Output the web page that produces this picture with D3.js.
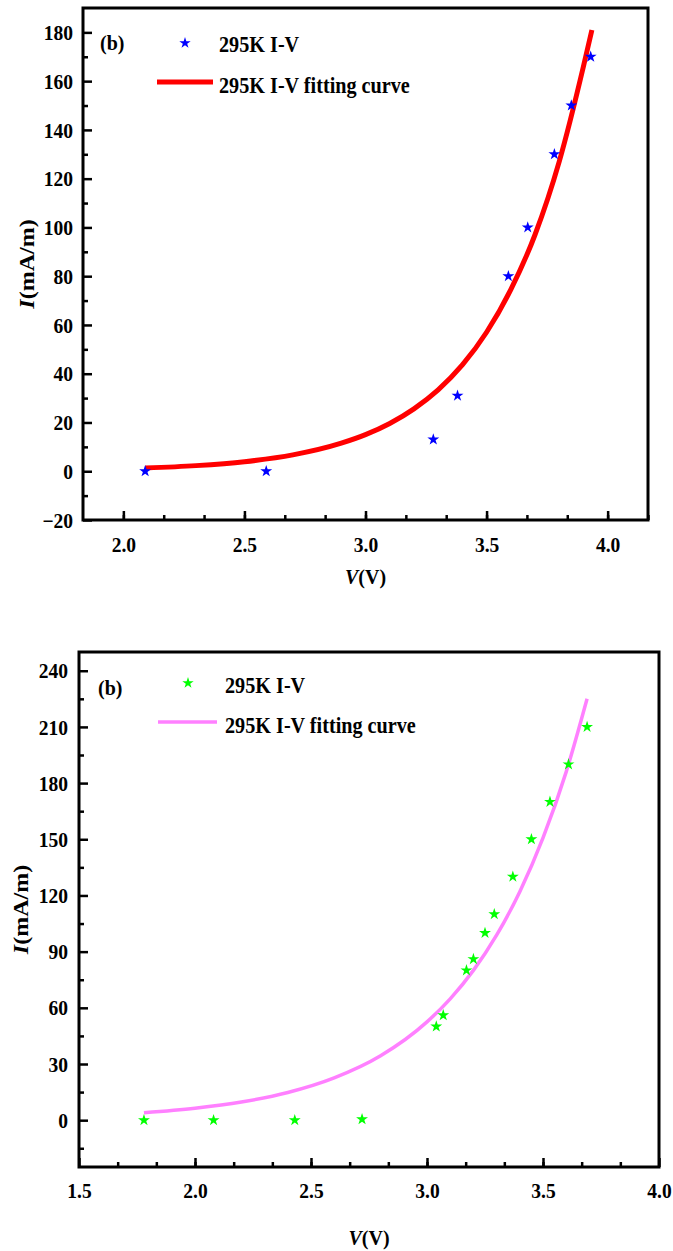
<!DOCTYPE html>
<html>
<head>
<meta charset="utf-8">
<script src="https://cdn.jsdelivr.net/npm/d3@7"></script>
<style>
  html, body { margin: 0; padding: 0; background: #fff; }
  svg { display: block; }
  text { font-family: "Liberation Serif", "Times New Roman", serif; font-weight: bold; fill: #000; }
</style>
</head>
<body>
<svg id="chart" width="673" height="1251"></svg>
<script>
// ---------- data: top chart ----------
const topV = [2.09, 2.59, 3.28, 3.38, 3.59, 3.67, 3.78, 3.85, 3.93];
const topI = [0, 0, 13, 31, 80, 100, 130, 150, 170];
const topFitV = [2.09, 2.3, 2.5, 2.7, 2.9, 3.0, 3.1, 3.2, 3.3, 3.4, 3.5, 3.6, 3.7, 3.8, 3.9, 3.935];
const topFitI = [1.3, 2.3, 3.9, 6.7, 11.5, 15, 19.6, 25.6, 33.4, 43.6, 57, 74.5, 97, 127, 166, 181];
const topXTicks = [2.0, 2.5, 3.0, 3.5, 4.0];
const topYTicks = [-20, 0, 20, 40, 60, 80, 100, 120, 140, 160, 180];

// ---------- data: bottom chart ----------
const botV = [1.78, 2.08, 2.43, 2.72, 3.04, 3.07, 3.17, 3.20, 3.25, 3.29, 3.37, 3.45, 3.53, 3.61, 3.69];
const botI = [0, 0, 0, 0.5, 50, 56, 80, 86, 100, 110, 130, 150, 170, 190, 210];
const botFitV = [1.78, 2.0, 2.2, 2.4, 2.6, 2.8, 3.0, 3.1, 3.2, 3.3, 3.4, 3.5, 3.6, 3.69];
const botFitI = [4, 6.4, 9.7, 14.8, 22.6, 34.4, 52.5, 64.8, 80, 98.8, 122, 150.7, 186, 225];
const botXTicks = [1.5, 2.0, 2.5, 3.0, 3.5, 4.0];
const botYTicks = [0, 30, 60, 90, 120, 150, 180, 210, 240];

const legendPoints = "295K I-V";
const legendCurve = "295K I-V fitting curve";
const panelLabel = "(b)";

const svg = d3.select("#chart");

function stretchedText(g, x, y, size, sy, str) {
  return g.append("text")
    .attr("transform", `translate(${x},${y}) scale(1,${sy})`)
    .attr("font-size", size).text(str);
}

function drawPanel(cfg) {
  const g = svg.append("g");
  const x = d3.scaleLinear().domain(cfg.xDomain).range([cfg.left, cfg.right]);
  const y = d3.scaleLinear().domain(cfg.yDomain).range([cfg.bottom, cfg.top]);

  // minor ticks
  const xMinor = d3.range(cfg.xDomain[0], cfg.xDomain[1] + 1e-6, cfg.xMinorStep)
    .filter(v => v > cfg.xDomain[0] + 1e-6 && v < cfg.xDomain[1] - 1e-6);
  const yMinor = d3.range(cfg.yMinorStart, cfg.yDomain[1] + 1e-6, cfg.yMinorStep)
    .filter(v => v > cfg.yDomain[0] + 1e-6 && v < cfg.yDomain[1] - 1e-6);

  const xAxisMinor = d3.axisBottom(x).tickValues(xMinor).tickSize(-5).tickFormat("");
  const yAxisMinor = d3.axisLeft(y).tickValues(yMinor).tickSize(-5).tickFormat("");
  g.append("g").attr("transform", `translate(0,${cfg.bottom})`).call(xAxisMinor)
    .call(s => s.select(".domain").remove())
    .selectAll("line").attr("stroke", "#000").attr("stroke-width", 2.5);
  g.append("g").attr("transform", `translate(${cfg.left},0)`).call(yAxisMinor)
    .call(s => s.select(".domain").remove())
    .selectAll("line").attr("stroke", "#000").attr("stroke-width", 2.5);

  // major ticks
  const xAxis = d3.axisBottom(x).tickValues(cfg.xTicks).tickSize(-9)
    .tickFormat(d3.format(".1f"));
  const yAxis = d3.axisLeft(y).tickValues(cfg.yTicks).tickSize(-9)
    .tickFormat(d3.format("d"));
  const gx = g.append("g").attr("transform", `translate(0,${cfg.bottom})`).call(xAxis);
  gx.select(".domain").remove();
  gx.selectAll("line").attr("stroke", "#000").attr("stroke-width", 2.5);
  gx.selectAll("text").attr("font-size", 19.5).attr("font-family", "Liberation Serif")
    .attr("font-weight", "bold").attr("fill", "#000").attr("dy", null).attr("y", null)
    .attr("transform", `translate(0,${cfg.xLabelY}) scale(1,1.08)`);
  const gy = g.append("g").attr("transform", `translate(${cfg.left},0)`).call(yAxis);
  gy.select(".domain").remove();
  gy.selectAll("line").attr("stroke", "#000").attr("stroke-width", 2.5);
  gy.selectAll("text").attr("font-size", 19.5).attr("font-family", "Liberation Serif")
    .attr("font-weight", "bold").attr("fill", "#000").attr("x", null)
    .attr("dy", "0.34em").attr("transform", `translate(${cfg.yLabelX - cfg.left},0) scale(1,1.08)`);

  // frame
  g.append("rect")
    .attr("x", cfg.left).attr("y", cfg.top)
    .attr("width", cfg.right - cfg.left).attr("height", cfg.bottom - cfg.top)
    .attr("fill", "none").attr("stroke", "#000").attr("stroke-width", 3);

  // fitting curve
  const fit = cfg.fitV.map((v, i) => [v, cfg.fitI[i]]);
  g.append("path")
    .datum(fit)
    .attr("fill", "none")
    .attr("stroke", cfg.lineColor)
    .attr("stroke-width", cfg.lineWidth)
    .attr("d", d3.line().x(d => x(d[0])).y(d => y(d[1])).curve(d3.curveMonotoneX));

  // data stars
  const star = d3.symbol().type(d3.symbolStar).size(44);
  g.selectAll("path.pt")
    .data(cfg.V.map((v, i) => [v, cfg.I[i]]))
    .join("path")
    .attr("class", "pt")
    .attr("d", star)
    .attr("transform", d => `translate(${x(d[0])},${y(d[1])})`)
    .attr("fill", cfg.starColor);

  // legend
  const L = cfg.legend;
  stretchedText(g, L.bx, L.by, 20, 1.08, panelLabel);
  g.append("path").attr("d", d3.symbol().type(d3.symbolStar).size(40))
    .attr("transform", `translate(${L.starX},${L.starY})`).attr("fill", cfg.starColor);
  stretchedText(g, L.tx, L.t1y, 20.2, 1.1, legendPoints);
  g.append("line").attr("x1", L.lx1).attr("x2", L.lx2).attr("y1", L.ly).attr("y2", L.ly)
    .attr("stroke", cfg.lineColor).attr("stroke-width", cfg.lineWidth);
  stretchedText(g, L.tx, L.t2y, 20.2, 1.1, legendCurve);

  // axis titles
  const xt = g.append("text")
    .attr("transform", `translate(${(cfg.left + cfg.right) / 2},${cfg.xTitleY}) scale(1,1.1)`)
    .attr("text-anchor", "middle").attr("font-size", 20);
  xt.append("tspan").attr("font-style", "italic").text("V");
  xt.append("tspan").text("(V)");
  const yt = g.append("text")
    .attr("transform", `translate(${cfg.yTitleX},${(cfg.top + cfg.bottom) / 2}) rotate(-90) scale(1.2,1)`)
    .attr("text-anchor", "middle").attr("font-size", 20);
  yt.append("tspan").attr("font-style", "italic").text("I");
  yt.append("tspan").text("(mA/m)");
}

drawPanel({
  left: 83, right: 648, top: 8, bottom: 520,
  xDomain: [1.8333, 4.1667], yDomain: [-20, 190],
  xTicks: topXTicks, yTicks: topYTicks,
  xMinorStep: 0.5 / 3, yMinorStep: 20, yMinorStart: -10,
  xLabelY: 32, yLabelX: 73,
  V: topV, I: topI, fitV: topFitV, fitI: topFitI,
  starColor: "#0000ff", lineColor: "#ff0000", lineWidth: 5,
  legend: { bx: 100, by: 50, starX: 185, starY: 43, tx: 219, t1y: 52, lx1: 157, lx2: 213, ly: 82, t2y: 93 },
  xTitleY: 584, yTitleX: 34
});

drawPanel({
  left: 79, right: 659, top: 652, bottom: 1167,
  xDomain: [1.5, 4.0], yDomain: [-25, 250],
  xTicks: botXTicks, yTicks: botYTicks,
  xMinorStep: 0.5 / 3, yMinorStep: 30, yMinorStart: -15,
  xLabelY: 31, yLabelX: 68,
  V: botV, I: botI, fitV: botFitV, fitI: botFitI,
  starColor: "#00ff00", lineColor: "#ff80ff", lineWidth: 3.5,
  legend: { bx: 98, by: 695, starX: 188, starY: 683, tx: 225, t1y: 693, lx1: 158, lx2: 217, ly: 722, t2y: 733 },
  xTitleY: 1245, yTitleX: 28
});
</script>
</body>
</html>
